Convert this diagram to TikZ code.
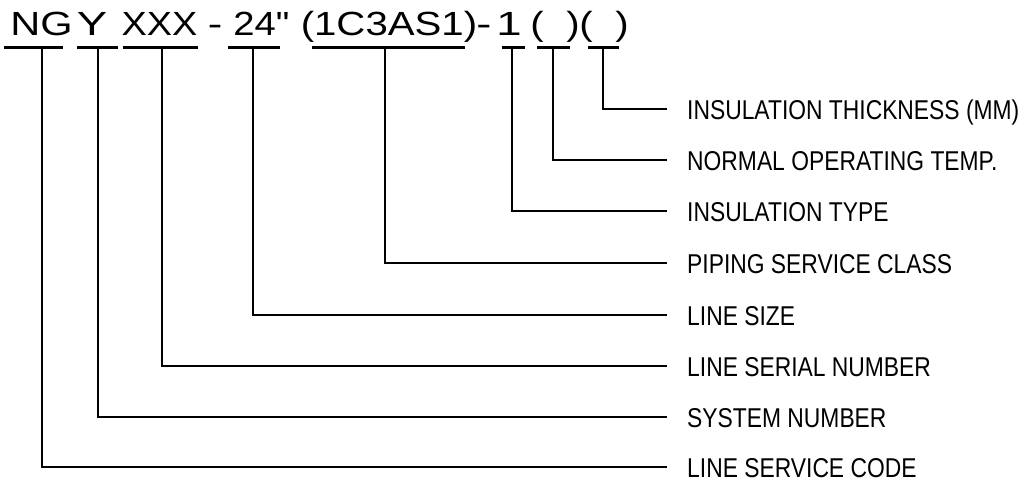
\documentclass[tikz,border=0pt]{standalone}
\usepackage{fontspec}
\setmainfont{Liberation Sans}
\newfontfamily\topfont{Liberation Sans}
\newfontfamily\labfont[FakeStretch=0.84]{Liberation Sans}
\begin{document}
\begin{tikzpicture}[x=1pt,y=-1pt,
  tok/.style={inner sep=0pt, anchor=base, font=\topfont\fontsize{33.5}{40}\selectfont},
  lab/.style={inner sep=0pt, anchor=base west, font=\labfont\fontsize{27.2}{32}\selectfont},
  wire/.style={line width=2.2pt, line join=miter, black}]
\useasboundingbox (0,0) rectangle (1021,482);
% code tokens
\node[tok] (tNG)  at (41.5,35) {\scalebox{1.24}[1]{NG}};
\node[tok] (tY)   at (92,35)   {\scalebox{1.36}[1]{Y}};
\node[tok] (tX)   at (159.5,35){\scalebox{1.13}[1]{XXX}};
\node[tok] (td1)  at (215,35)  {\scalebox{1.3}[1]{-}};
\node[tok] (tS)   at (261.5,35){\scalebox{1.14}[1]{24"}};
\node[tok] (tC)   at (389,35)  {\scalebox{1.2}[1]{(1C3AS1)}};
\node[tok] (td2)  at (484,35)  {\scalebox{1.35}[1]{-}};
\node[tok] (tI)   at (509,35)  {\scalebox{1.36}[1]{1}};
\node[tok] (tp1)  at (537,35)  {\scalebox{1.2}[1]{(}};
\node[tok] (tp2)  at (573,35)  {\scalebox{1.2}[1]{)}};
\node[tok] (tp3)  at (586,35)  {\scalebox{1.2}[1]{(}};
\node[tok] (tp4)  at (622,35)  {\scalebox{1.2}[1]{)}};
% underlines, leaders and labels
\foreach \n/\a/\b/\m/\y/\t in {
  1/588/619/603/109/{INSULATION THICKNESS (MM)},
  2/537/570/553/160/{NORMAL OPERATING TEMP.},
  3/502/525/512/211/{INSULATION TYPE},
  4/312/465/385/263/{PIPING SERVICE CLASS},
  5/228/280/253/315/{LINE SIZE},
  6/123/198/162/366/{LINE SERIAL NUMBER},
  7/77/118/98/417/{SYSTEM NUMBER},
  8/4/63/42/467/{LINE SERVICE CODE}}{
  \coordinate (ua\n) at (\a,47.5);
  \coordinate (ub\n) at (\b,47.5);
  \coordinate (um\n) at (\m,47.5);
  \coordinate (e\n) at (667,\y);
  \node[lab] (l\n) at (687,\y+10) {\t};
  \draw[wire] (ua\n) -- (ub\n);
  \draw[wire] (um\n) |- (e\n);
}
\end{tikzpicture}
\end{document}
